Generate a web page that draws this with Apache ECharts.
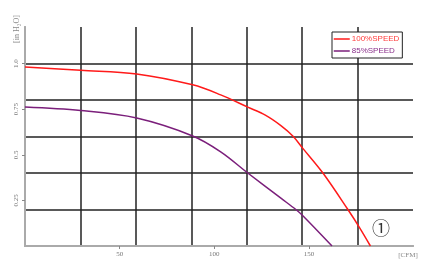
<!DOCTYPE html>
<html><head><meta charset="utf-8">
<script src="https://cdn.jsdelivr.net/npm/echarts@6/dist/echarts.min.js"></script>
<style>html,body{margin:0;padding:0;background:#fff}#c{width:424px;height:268px}</style>
</head><body><div id="c"></div>
<script>
var xTicks = [50, 100, 150];
var yTicks = [0.25, 0.5, 0.75, 1.0];
var speed100 = [[0,0.981],[29.4,0.963],[59,0.943],[88.6,0.883],[103.4,0.828],[117.7,0.761],[127.2,0.716],[135.2,0.660],[141.5,0.603],[146.8,0.535],[157.4,0.400],[170.6,0.200],[176.5,0.105],[182.5,0]];
var speed85 = [[0,0.761],[29.4,0.742],[59,0.701],[88.6,0.603],[103.4,0.516],[117.7,0.400],[135.2,0.262],[143.1,0.200],[146.8,0.166],[162.2,0]];
var seriesNames = ['100%SPEED', '85%SPEED'];

var serif = 'Liberation Serif';
var chart = echarts.init(document.getElementById('c'), null, {renderer:'canvas'});
chart.setOption({
  animation:false,
  backgroundColor:'#fff',
  grid:{left:25,right:11,top:27,bottom:22},
  xAxis:[{
    type:'value',min:0,max:205,interval:50,position:'bottom',
    axisLine:{show:true,lineStyle:{color:'#aaa',width:2}},
    axisTick:{show:true,length:3,customValues:xTicks,lineStyle:{color:'#888'}},
    axisLabel:{customValues:xTicks,fontFamily:serif,fontSize:7,color:'#777',margin:5},
    splitLine:{show:false}
  },{
    type:'value',min:0,max:7,interval:1,position:'top',
    axisLine:{show:true,lineStyle:{color:'#aaa',width:2}},
    axisTick:{show:false},axisLabel:{show:false},
    splitLine:{show:true,showMinLine:false,showMaxLine:false,lineStyle:{color:'#222',width:1.5}}
  }],
  yAxis:[{
    type:'value',min:0,max:1.2,interval:0.25,position:'left',
    axisLine:{show:true,lineStyle:{color:'#aaa',width:2}},
    axisTick:{show:true,length:3,customValues:yTicks,lineStyle:{color:'#888'}},
    axisLabel:{customValues:yTicks,rotate:90,fontFamily:serif,fontSize:7,color:'#777',margin:5,
      formatter:function(v){return v===1?'1.0':String(v);}},
    splitLine:{show:false}
  },{
    type:'value',min:0,max:6,interval:1,position:'right',
    axisLine:{show:true,lineStyle:{color:'#aaa',width:2}},
    axisTick:{show:false},axisLabel:{show:false},
    splitLine:{show:true,showMinLine:false,showMaxLine:false,lineStyle:{color:'#222',width:1.5}}
  }],
  legend:{
    orient:'vertical',left:332,top:32,
    padding:[3,3,3,1],itemWidth:16,itemHeight:8,itemGap:4,
    borderColor:'#222',borderWidth:1,backgroundColor:'#fff',
    itemStyle:{opacity:0},
    lineStyle:{width:1.5},
    textStyle:{fontFamily:'Liberation Sans',fontSize:8,lineHeight:8,padding:[0,0,0,-3]},
    data:[{name:seriesNames[0],textStyle:{color:'#ff3b3b'}},{name:seriesNames[1],textStyle:{color:'#8a2f8a'}}]
  },
  graphic:[
    {type:'text',x:17,y:29,rotation:Math.PI/2,style:{text:'[in H\u2082O]',fontFamily:serif,fontSize:8,fill:'#888',align:'center',verticalAlign:'middle'}},
    {type:'text',x:408,y:255,style:{text:'[CFM]',fontFamily:serif,fontSize:7,fill:'#888',align:'center',verticalAlign:'middle'}},
    {type:'text',x:381,y:228,style:{text:'\u2460',fontFamily:'Noto Sans CJK JP',fontSize:18,fill:'#333',align:'center',verticalAlign:'middle'}}
  ],
  series:[
    {name:seriesNames[0],type:'line',xAxisIndex:0,yAxisIndex:0,data:speed100,smooth:0.35,symbol:'none',
      lineStyle:{color:'#ff1a1a',width:1.5},itemStyle:{color:'#ff1a1a'},z:5},
    {name:seriesNames[1],type:'line',xAxisIndex:0,yAxisIndex:0,data:speed85,smooth:0.35,symbol:'none',
      lineStyle:{color:'#7b1f7b',width:1.5},itemStyle:{color:'#7b1f7b'},z:5}
  ]
});
</script></body></html>
